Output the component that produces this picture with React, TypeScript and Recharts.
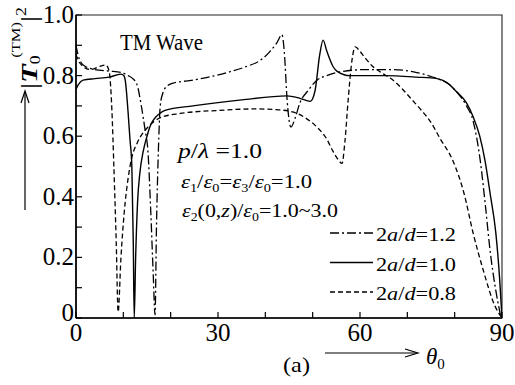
import React from 'react';
import { LineChart, Line, XAxis, YAxis, ReferenceArea } from 'recharts';

// 2a/d = 1.2 (dash-dot)
const theta12 = [0, 0.4, 1, 2, 4, 7, 9.7, 11, 12, 12.9, 13.8, 14.6, 15.2, 15.8, 16.3, 16.7, 17.0, 17.4, 17.8, 18.3, 19.2, 20.5, 24.7, 31.9, 36, 38.9, 41, 42.5, 43.5, 44, 44.6, 45.4, 46.3, 47.3, 49, 50.9, 53, 55, 61.5, 67, 72, 76.3, 78.5, 80.5, 82.5, 83.9, 85.4, 86.5, 87.5, 88.7, 89.8];
const t12 = [0.9, 0.87, 0.845, 0.83, 0.82, 0.815, 0.81, 0.8, 0.79, 0.77, 0.7, 0.62, 0.55, 0.35, 0.15, 0.01, 0.3, 0.55, 0.7, 0.74, 0.765, 0.775, 0.785, 0.81, 0.83, 0.85, 0.88, 0.91, 0.935, 0.88, 0.72, 0.63, 0.66, 0.71, 0.75, 0.785, 0.8, 0.81, 0.82, 0.82, 0.81, 0.79, 0.775, 0.745, 0.7, 0.65, 0.52, 0.37, 0.22, 0.09, 0];

// 2a/d = 1.0 (solid)
const theta10 = [0, 0.5, 1.5, 4, 7, 9.5, 10.1, 10.4, 11, 11.4, 11.8, 12.1, 12.3, 12.6, 13.0, 13.5, 14.2, 15, 15.6, 17.7, 18.8, 24.7, 35, 44.6, 47.3, 49.5, 50.5, 51.5, 52.2, 53, 54.3, 55.1, 57.9, 65, 72, 76.3, 78.5, 80.4, 82.5, 83.9, 85.3, 86.4, 87.5, 88.7, 89.5, 90];
const t10 = [0.755, 0.77, 0.785, 0.79, 0.795, 0.805, 0.8, 0.785, 0.68, 0.59, 0.5, 0.25, 0, 0.2, 0.38, 0.48, 0.55, 0.6, 0.63, 0.675, 0.685, 0.7, 0.72, 0.733, 0.725, 0.715, 0.75, 0.87, 0.917, 0.88, 0.83, 0.815, 0.8, 0.8, 0.795, 0.79, 0.775, 0.747, 0.71, 0.664, 0.6, 0.52, 0.41, 0.28, 0.13, 0];

// 2a/d = 0.8 (dashed)
const theta08 = [0, 0.5, 1.5, 3, 5, 6.3, 6.9, 7.2, 7.6, 8.0, 8.5, 8.9, 9.5, 10.2, 11, 11.8, 13, 15.2, 17.7, 22, 30, 38, 42, 45.8, 48.5, 50.9, 53, 54.3, 55.5, 56.2, 56.8, 57.5, 58.3, 59, 60, 61, 62.7, 65, 67, 69, 71, 73, 74.8, 77, 79.6, 82, 83.9, 86, 88.5, 90];
const t08 = [0.87, 0.85, 0.83, 0.82, 0.83, 0.835, 0.82, 0.79, 0.68, 0.5, 0.25, 0.02, 0.2, 0.35, 0.46, 0.53, 0.58, 0.63, 0.66, 0.675, 0.685, 0.69, 0.688, 0.68, 0.66, 0.63, 0.59, 0.55, 0.52, 0.51, 0.58, 0.72, 0.85, 0.895, 0.88, 0.86, 0.83, 0.805, 0.785, 0.755, 0.72, 0.685, 0.65, 0.59, 0.52, 0.41, 0.28, 0.16, 0.04, 0];

const xTicks = [0, 10, 20, 30, 40, 50, 60, 70, 80, 90];
const xTickLabels = ['0', '', '', '30', '', '', '60', '', '', '90'];
const yTicks = [0, 0.1, 0.2, 0.3, 0.4, 0.5, 0.6, 0.7, 0.8, 0.9, 1.0];
const yTickLabels = ['0', '', '0.2', '', '0.4', '', '0.6', '', '0.8', '', '1.0'];

const legendLabels = ['1.2', '1.0', '0.8'];

const toData = (xs: number[], ys: number[]) => xs.map((t, i) => ({ t, v: ys[i] }));
const data12 = toData(theta12, t12);
const data10 = toData(theta10, t10);
const data08 = toData(theta08, t08);

const FONT = "'Liberation Serif', 'Times New Roman', 'DejaVu Serif', serif";
const serif = { fontFamily: FONT };
const DASHDOT = '9 3 2 3';
const DASH = '5 3';

const XTick = (props: any) => {
  const { x, y, payload } = props;
  const idx = xTicks.indexOf(payload.value);
  const label = xTickLabels[idx];
  return (
    <g>
      <line x1={x} x2={x} y1={y} y2={y - 6} stroke="#000" strokeWidth={1.2} />
      {label ? (
        <text x={x} y={y + 23} textAnchor="middle" style={serif} fontSize={25} fill="#000">
          {label}
        </text>
      ) : null}
    </g>
  );
};

const YTick = (props: any) => {
  const { x, y, payload } = props;
  const idx = yTicks.findIndex((v) => Math.abs(v - payload.value) < 1e-6);
  const label = yTickLabels[idx];
  return (
    <g>
      <line x1={x} x2={x + 6} y1={y} y2={y} stroke="#000" strokeWidth={1.2} />
      {label ? (
        <text x={x - 2} y={idx === 0 ? y + 3 : y + 8} textAnchor="end" style={serif} fontSize={25} fill="#000">
          {label}
        </text>
      ) : null}
    </g>
  );
};

export default function App() {
  return (
    <div style={{ position: 'absolute', left: 0, top: 0, width: 515, height: 385, background: '#fff' }}>
      <LineChart width={515} height={385} margin={{ top: 15, right: 13, bottom: 37, left: 36 }}>
        <XAxis
          dataKey="t"
          type="number"
          domain={[0, 90]}
          ticks={xTicks}
          interval={0}
          tickSize={0}
          tickMargin={0}
          tickLine={false}
          tick={<XTick />}
          height={30}
          axisLine={{ stroke: '#000', strokeWidth: 1.6 }}
          allowDataOverflow
        />
        <YAxis
          type="number"
          domain={[0, 1]}
          ticks={yTicks}
          interval={0}
          tickSize={0}
          tickMargin={0}
          tickLine={false}
          tick={<YTick />}
          width={40}
          axisLine={{ stroke: '#000', strokeWidth: 1.6 }}
          allowDataOverflow
        />
        <ReferenceArea x1={0} x2={90} y1={0} y2={1} fill="none" fillOpacity={0} stroke="#222" strokeWidth={1.1} ifOverflow="visible" />
        <Line data={data12} dataKey="v" type="monotone" dot={false} stroke="#000" strokeWidth={1.3} strokeDasharray={DASHDOT} isAnimationActive={false} />
        <Line data={data10} dataKey="v" type="monotone" dot={false} stroke="#000" strokeWidth={1.4} isAnimationActive={false} />
        <Line data={data08} dataKey="v" type="monotone" dot={false} stroke="#000" strokeWidth={1.3} strokeDasharray={DASH} isAnimationActive={false} />
      </LineChart>
      <svg width={515} height={385} style={{ position: 'absolute', left: 0, top: 0, pointerEvents: 'none', fontFamily: FONT }} fill="#000">
        {/* Y axis label */}
        <text transform="translate(37,89) rotate(-90)" style={serif} fontSize={24} textLength={82} lengthAdjust="spacingAndGlyphs">
          <tspan>|</tspan>
          <tspan fontStyle="italic" fontWeight="bold">T</tspan>
          <tspan fontSize={14} dy={3}>0</tspan>
          <tspan fontSize={13} dx={-2} dy={-20}>(TM)</tspan>
          <tspan dy={17}>|</tspan>
          <tspan fontSize={14} dy={-11}>2</tspan>
        </text>
        <line x1={25} y1={92} x2={25} y2={210} stroke="#000" strokeWidth={1.2} />
        <polyline points="21,103 25,91 29,103" fill="none" stroke="#000" strokeWidth={1.2} />

        {/* TM Wave */}
        <text x={120} y={50} style={serif} fontSize={23} textLength={83} lengthAdjust="spacingAndGlyphs">TM Wave</text>

        {/* parameters */}
        <text x={178} y={158} style={serif} fontSize={20} textLength={84} lengthAdjust="spacingAndGlyphs">
          <tspan fontStyle="italic">p</tspan>
          <tspan>/</tspan>
          <tspan fontStyle="italic">λ</tspan>
          <tspan> =1.0</tspan>
        </text>
        <text x={181} y={188} style={serif} fontSize={19} textLength={131} lengthAdjust="spacingAndGlyphs">
          <tspan fontStyle="italic">ε</tspan>
          <tspan fontSize={12} dy={4}>1</tspan>
          <tspan dy={-4}>/</tspan>
          <tspan fontStyle="italic">ε</tspan>
          <tspan fontSize={12} dy={4}>0</tspan>
          <tspan dy={-4}>=</tspan>
          <tspan fontStyle="italic">ε</tspan>
          <tspan fontSize={12} dy={4}>3</tspan>
          <tspan dy={-4}>/</tspan>
          <tspan fontStyle="italic">ε</tspan>
          <tspan fontSize={12} dy={4}>0</tspan>
          <tspan dy={-4}>=1.0</tspan>
        </text>
        <text x={182} y={217} style={serif} fontSize={19} textLength={156} lengthAdjust="spacingAndGlyphs">
          <tspan fontStyle="italic">ε</tspan>
          <tspan fontSize={12} dy={4}>2</tspan>
          <tspan dy={-4}>(0,</tspan>
          <tspan fontStyle="italic">z</tspan>
          <tspan>)/</tspan>
          <tspan fontStyle="italic">ε</tspan>
          <tspan fontSize={12} dy={4}>0</tspan>
          <tspan dy={-4}>=1.0~3.0</tspan>
        </text>

        {/* legend */}
        {legendLabels.map((lab, i) => {
          const ly = 233 + i * 29.5;
          const dash = i === 0 ? DASHDOT : i === 2 ? DASH : undefined;
          return (
            <g key={lab}>
              <line x1={330} x2={373} y1={ly} y2={ly} stroke="#000" strokeWidth={1.3} strokeDasharray={dash} />
              <text x={376} y={ly + 8} style={serif} fontSize={19} textLength={80} lengthAdjust="spacingAndGlyphs">
                <tspan>2</tspan>
                <tspan fontStyle="italic">a</tspan>
                <tspan>/</tspan>
                <tspan fontStyle="italic">d</tspan>
                <tspan>={lab}</tspan>
              </text>
            </g>
          );
        })}

        {/* bottom annotations */}
        <text x={283} y={372} style={serif} fontSize={21} textLength={27} lengthAdjust="spacingAndGlyphs">(a)</text>
        <line x1={325} y1={353} x2={417} y2={353} stroke="#000" strokeWidth={1.2} />
        <polyline points="405,349 418,353 405,357" fill="none" stroke="#000" strokeWidth={1.2} />
        <text x={426} y={364} style={serif} fontSize={23}>
          <tspan fontStyle="italic">θ</tspan>
          <tspan fontSize={15} dy={5}>0</tspan>
        </text>
      </svg>
    </div>
  );
}
